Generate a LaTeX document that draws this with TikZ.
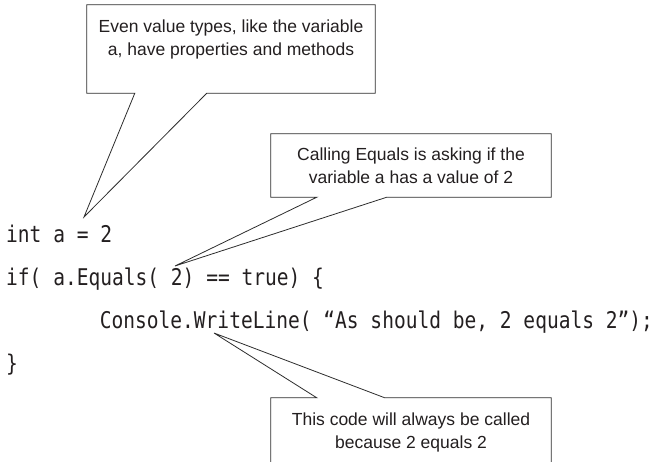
\documentclass[tikz,border=0pt]{standalone}
\usepackage{fontspec}
\setmainfont{Liberation Sans}
\newfontfamily\codefont[FakeStretch=0.85]{DejaVu Sans Mono}
\usetikzlibrary{positioning}
\definecolor{calloutgray}{RGB}{45,45,45}
\definecolor{inkgray}{RGB}{35,31,32}

\tikzset{
  calloutbox/.style={rectangle, inner sep=0pt},
  calloutline/.style={draw=calloutgray, line width=0.8pt, fill=white},
  callouttext/.style={align=center, inner sep=0pt, text=inkgray, font=\fontsize{17.5}{23.5}\selectfont},
  codeline/.style={anchor=base west, inner sep=0pt, text=inkgray, font=\fontsize{23}{28}\codefont}
}

\begin{document}
\begin{tikzpicture}[x=1pt, y=-1pt]
  \useasboundingbox (0,0) rectangle (664,461);

  % code lines
  \node[codeline] (lineInt) at (6,242) {int a = 2};
  \node[codeline] (lineIf) at (6,285) {if( a.Equals( 2) == true) \{};
  \node[codeline] (lineCall) at (99.6,328) {Console.WriteLine( “As should be, 2 equals 2”);};
  \node[codeline] (lineEnd) at (6,371) {\}};

  % where the pointers end
  \coordinate (tipValue) at (84,217);
  \coordinate (tipEquals) at (175,266);
  \coordinate (tipCall) at (214,333);

  % callout frames
  \node[calloutbox, minimum width=288pt, minimum height=88pt] (boxValue) at (231,49) {};
  \node[calloutbox, minimum width=280pt, minimum height=63pt] (boxEquals) at (411,165.5) {};
  \node[calloutbox, minimum width=280pt, minimum height=80pt] (boxCall) at (411,438) {};

  \draw[calloutline] (boxValue.north west) -- (boxValue.north east) -- (boxValue.south east)
    -- ([xshift=120pt]boxValue.south west) -- (tipValue) -- ([xshift=48pt]boxValue.south west)
    -- (boxValue.south west) -- cycle;
  \draw[calloutline] (boxEquals.north west) -- (boxEquals.north east) -- (boxEquals.south east)
    -- ([xshift=116pt]boxEquals.south west) -- (tipEquals) -- ([xshift=46pt]boxEquals.south west)
    -- (boxEquals.south west) -- cycle;
  \draw[calloutline] (boxCall.south west) -- (boxCall.north west)
    -- ([xshift=46pt]boxCall.north west) -- (tipCall) -- ([xshift=114pt]boxCall.north west)
    -- (boxCall.north east) -- (boxCall.south east);

  % callout texts
  \node[callouttext] (textValue) at (231,39.3) {Even value types, like the variable\\a, have properties and methods};
  \node[callouttext] (textEquals) at (411,165.7) {Calling Equals is asking if the\\variable a has a value of 2};
  \node[callouttext] (textCall) at (411,432.5) {This code will always be called\\because 2 equals 2};
\end{tikzpicture}
\end{document}
